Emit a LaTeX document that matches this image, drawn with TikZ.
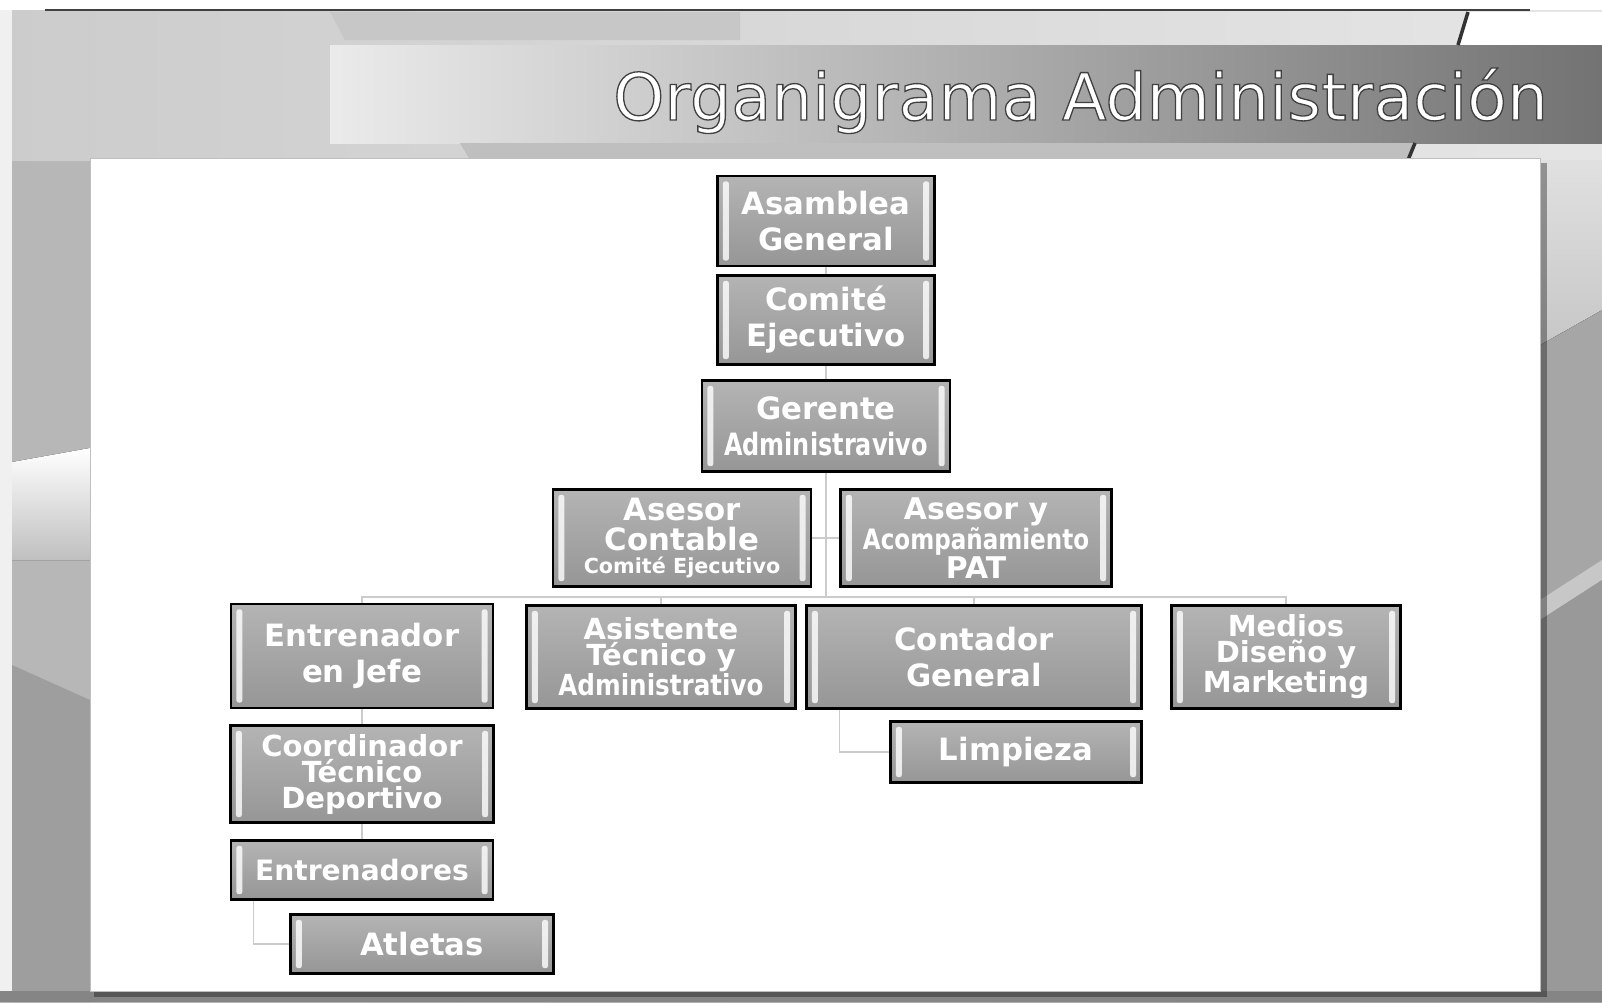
\documentclass[tikz,border=0pt]{standalone}
\usepackage{fontspec}
\usepackage{graphicx}
\setmainfont{DejaVu Sans}
\newfontfamily\titulofont{DejaVu Sans}[FakeBold=2]
\definecolor{cajaclaro}{RGB}{180,180,180}
\definecolor{cajaoscuro}{RGB}{150,150,150}
\newcommand{\estrecho}[2]{\scalebox{#1}[1]{#2}}
\begin{document}
\begin{tikzpicture}[x=0.02cm,y=-0.02cm,
	caja/.style={draw=black,line width=1.2pt,top color=cajaclaro,bottom color=cajaoscuro,text=white,align=center,inner sep=0pt,
		font=\bfseries\fontsize{17.5}{20.5}\selectfont,
		path picture={
			\fill[white,opacity=.8,rounded corners=1.5pt] ([xshift=3pt,yshift=-3pt]path picture bounding box.north west) rectangle ([xshift=6.5pt,yshift=3pt]path picture bounding box.south west);
			\fill[white,opacity=.8,rounded corners=1.5pt] ([xshift=-3pt,yshift=-3pt]path picture bounding box.north east) rectangle ([xshift=-6.5pt,yshift=3pt]path picture bounding box.south east);}},
	trio/.style={font=\bfseries\fontsize{16.5}{14.8}\selectfont},
	linea/.style={gray!40,line width=0.6pt},
	titulo/.style={anchor=base west,font=\titulofont\fontsize{37}{40}\selectfont}]
	\useasboundingbox (0,0) rectangle (1602,1002);
	% fondo
	\fill[left color=black!28,right color=black!35] (0,0) rectangle (1602,1002);
	\fill[left color=black!20,right color=black!10] (0,10) rectangle (1602,160);
	\fill[white] (0,0) rectangle (1602,10);
	\fill[black!22] (330,12) -- (740,12) -- (740,40) -- (345,40) -- cycle;
	\fill[white] (1468,12) -- (1602,12) -- (1602,45) -- (1458,45) -- cycle;
	\fill[left color=black!8,right color=black!55] (330,45) rectangle (1602,143);
	\fill[black!25] (460,143) -- (1415,143) -- (1408,160) -- (470,160) -- cycle;
	\draw[black!80,line width=2pt] (1468,12) -- (1458,45);
	\draw[black!80,line width=2pt] (1415,143) -- (1408,160);
	\draw[black!75,line width=1pt] (45,10) -- (1530,10);
	\fill[black!6] (0,10) rectangle (12,1002);
	\fill[top color=white,bottom color=black!25] (12,462) -- (90,448) -- (90,560) -- (12,560) -- cycle;
	\fill[black!38] (12,665) -- (90,700) -- (90,1002) -- (12,1002) -- cycle;
	\fill[top color=black!12,bottom color=black!22] (1540,160) -- (1602,160) -- (1602,310) -- (1540,345) -- cycle;
	\fill[black!22] (1540,600) -- (1602,560) -- (1602,580) -- (1540,620) -- cycle;
	\fill[black!40] (1540,620) -- (1602,580) -- (1602,1002) -- (1540,1002) -- cycle;
	\fill[black!48] (0,991) rectangle (1602,1002);
	% panel
	\fill[black,opacity=.35] (94,163) rectangle (1547,997);
	\fill[white] (90,158) rectangle (1540,991);
	\draw[gray!50,line width=0.5pt] (90,158) rectangle (1540,991);
	% titulo
	\node[titulo,text=white] (titulo) at (607,120) {\special{pdf:literal direct 0.25 G}Organigrama Administración};
	% cajas
	\node[caja,minimum width=4.34cm,minimum height=1.8cm] (asamblea) at (826,221) {Asamblea\\General};
	\node[caja,minimum width=4.34cm,minimum height=1.78cm] (comite) at (826,320) {Comité\\Ejecutivo};
	\node[caja,minimum width=4.96cm,minimum height=1.82cm] (gerente) at (826,426) {Gerente\\\estrecho{0.78}{Administravivo}};
	\node[caja,minimum width=5.16cm,minimum height=1.94cm,font=\bfseries\fontsize{17.5}{17.2}\selectfont] (contable) at (682,538) {Asesor\\Contable\\[-4.5pt]{\fontsize{11.8}{12}\selectfont Comité Ejecutivo}};
	\node[caja,minimum width=5.42cm,minimum height=1.94cm,font=\bfseries\fontsize{17}{15.7}\selectfont] (acompana) at (976,538) {Asesor y\\{\fontsize{16}{15.7}\selectfont\estrecho{0.82}{Acompañamiento}}\\PAT};
	\node[caja,minimum width=5.24cm,minimum height=2.08cm] (entjefe) at (362,656) {Entrenador\\en Jefe};
	\node[caja,trio,minimum width=5.38cm,minimum height=2.06cm] (asistente) at (661,657) {Asistente\\Técnico y\\\estrecho{0.85}{Administrativo}};
	\node[caja,minimum width=6.7cm,minimum height=2.06cm] (contador) at (974,657) {Contador\\General};
	\node[caja,trio,minimum width=4.58cm,minimum height=2.06cm] (medios) at (1286,657) {Medios\\Diseño y\\Marketing};
	\node[caja,minimum width=5.02cm,minimum height=1.22cm] (limpieza) at (1016,752) {Limpieza};
	\node[caja,trio,minimum width=5.26cm,minimum height=1.94cm] (coordinador) at (362,774) {Coordinador\\Técnico\\Deportivo};
	\node[caja,minimum width=5.24cm,minimum height=1.18cm,font=\bfseries\fontsize{16}{19}\selectfont] (entrenadores) at (362,870) {Entrenadores};
	\node[caja,minimum width=5.26cm,minimum height=1.18cm] (atletas) at (422,944) {Atletas};
	% lineas
	\coordinate (reparto) at (826,597);
	\draw[linea] (asamblea) -- (comite);
	\draw[linea] (comite) -- (gerente);
	\draw[linea] (gerente) -- (reparto);
	\draw[linea] (contable) -- (acompana);
	\draw[linea] (entjefe.north) |- (reparto) -| (medios.north);
	\draw[linea] (asistente.north) -- (asistente.north |- reparto);
	\draw[linea] (contador.north) -- (contador.north |- reparto);
	\draw[linea] (entjefe) -- (coordinador);
	\draw[linea] (coordinador) -- (entrenadores);
	\draw[linea] ([xshift=0.48cm]entrenadores.south west) |- (atletas.west);
	\draw[linea] ([xshift=0.68cm]contador.south west) |- (limpieza.west);
\end{tikzpicture}
\end{document}
